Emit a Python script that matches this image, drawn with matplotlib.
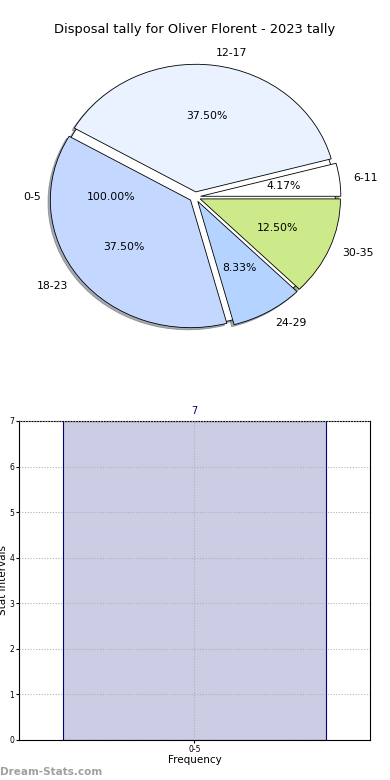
import matplotlib
matplotlib.use('Agg')
import matplotlib.pyplot as plt
import numpy as np

# pie data (0-5 drawn as a full circle underneath, as in the original)
pie_labels = ['6-11', '12-17', '18-23', '24-29', '30-35']
pie_values = [1, 9, 9, 2, 3]
pie_colors = ['#ffffff', '#eaf1ff', '#c4d8ff', '#b4d4ff', '#cdea8a']
base_label = ['0-5']
base_value = [1]

# bar data
bar_cats = ['0-5']
bar_vals = [7]

fig = plt.figure(figsize=(3.9, 7.8), dpi=100)

# pie
shadow = {'ox': -0.012, 'oy': -0.012, 'shade': 0.6}
ax1 = fig.add_axes([0.0505, 0.543, 0.899, 0.409])
ax1.pie(base_value, labels=base_label, autopct='%1.2f%%', colors=['#ffffff'],
        shadow=shadow, startangle=0, labeldistance=1.1,
        wedgeprops={'edgecolor': 'black', 'linewidth': 0.6},
        textprops={'fontsize': 7.8})
ax1.pie(pie_values, labels=pie_labels, autopct='%1.2f%%', colors=pie_colors,
        explode=[0.04] * len(pie_values), shadow=shadow, startangle=0,
        labeldistance=1.1,
        wedgeprops={'edgecolor': 'black', 'linewidth': 0.6},
        textprops={'fontsize': 7.8})
ax1.set_aspect('auto')
ax1.set_xlim(-1.25, 1.25)
ax1.set_ylim(-1.25, 1.25)
fig.text(0.5, 1 - 30 / 780, 'Disposal tally for Oliver Florent - 2023 tally',
         fontsize=9.4, ha='center', va='center')

# bar
ax2 = fig.add_axes([0.0487, 0.0513, 0.9, 0.409])
x = np.arange(len(bar_cats))
ax2.bar(x, bar_vals, width=0.75, color='#ccccE4', edgecolor='#000080',
        linewidth=0.8, zorder=2)
for xi, v in zip(x, bar_vals):
    ax2.text(xi, v + 0.1, str(v), ha='center', va='bottom', color='#000080', fontsize=7)
ax2.set_xlim(-0.5, 0.5)
ax2.set_ylim(0, 7)
ax2.set_yticks(range(0, 8))
ax2.set_xticks(x)
ax2.set_xticklabels(bar_cats)
ax2.tick_params(labelsize=5.5, length=2, pad=1.5)
ax2.grid(True, linestyle=(0, (1, 1.5)), color='#b0b0b0', linewidth=0.8, zorder=3)
ax2.set_axisbelow(False)
ax2.set_xlabel('Frequency', fontsize=7.5, labelpad=1)
ax2.set_ylabel('Stat Intervals', fontsize=7.5, labelpad=1)

fig.text(0.0, 0.004, 'Dream-Stats.com', fontsize=7.5, color='#a0a0a0',
         fontweight='bold', ha='left', va='bottom')

plt.savefig('out.png')
